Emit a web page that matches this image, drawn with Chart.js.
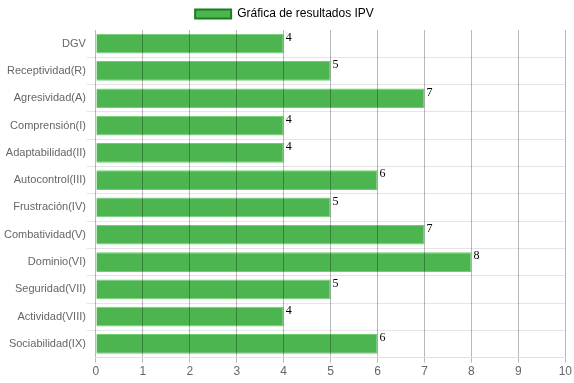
<!DOCTYPE html>
<html>
<head>
<meta charset="utf-8">
<style>
  html, body { margin: 0; padding: 0; background: #fff; }
  #wrap { width: 574px; height: 383px; }
</style>
</head>
<body>
<div id="wrap">
  <canvas id="myChart"></canvas>
</div>

<script src="https://cdn.jsdelivr.net/npm/chart.js"></script>

<script>
  const categorias = ['DGV', 'Receptividad(R)', 'Agresividad(A)', 'Comprensión(I)', 'Adaptabilidad(II)',
    'Autocontrol(III)', 'Frustración(IV)', 'Combatividad(V)', 'Dominio(VI)', 'Seguridad(VII)',
    'Actividad(VIII)', 'Sociabilidad(IX)'];
  const valores = [4, 5, 7, 4, 4, 6, 5, 7, 8, 5, 4, 6];
  const ticksX = [0, 1, 2, 3, 4, 5, 6, 7, 8, 9, 10];

  Chart.defaults.font.family = '"Helvetica Neue", Helvetica, Arial, "Liberation Sans", sans-serif';
  Chart.defaults.font.size = 12;
  Chart.defaults.color = '#666';

  // numbers at the end of every bar
  const etiquetas = {
    id: 'etiquetas',
    afterDatasetsDraw(chart) {
      const c = chart.ctx;
      const meta = chart.getDatasetMeta(0);
      c.save();
      c.font = '12px "Times New Roman", "Liberation Serif", serif';
      c.fillStyle = '#000';
      c.textAlign = 'left';
      c.textBaseline = 'top';
      meta.data.forEach((bar, i) => {
        const top = bar.y - bar.height / 2;
        c.fillText(valores[i], bar.x + 2, top - 2);
      });
      c.restore();
    }
  };

  const ctx = document.getElementById('myChart');
  new Chart(ctx, {
    type: 'bar',
    data: {
      labels: categorias,
      datasets: [{
        label: 'Gráfica de resultados IPV',
        data: valores,
        backgroundColor: '#4cb54f',
        borderColor: '#6fcf6f',
        borderWidth: 1,
        borderSkipped: 'left'
      }]
    },
    options: {
      indexAxis: 'y',
      responsive: true,
      maintainAspectRatio: false,
      animation: false,
      layout: { padding: { left: 3, right: 8, top: 0, bottom: 2 } },
      plugins: {
        tooltip: { enabled: false },
        legend: {
          labels: {
            boxWidth: 36,
            boxHeight: 9,
            padding: 8,
            generateLabels(chart) {
              return [{
                text: chart.data.datasets[0].label,
                fillStyle: '#4cb54f',
                strokeStyle: '#1e7d1e',
                lineWidth: 2,
                datasetIndex: 0
              }];
            }
          }
        }
      },
      scales: {
        x: {
          min: 0,
          max: 10,
          afterBuildTicks(axis) { axis.ticks = ticksX.map(v => ({ value: v })); },
          grid: { color: 'rgba(0,0,0,0.28)', z: 1, drawTicks: true, tickLength: 5 },
          border: { color: 'rgba(0,0,0,0.12)', z: 2 },
          ticks: { color: '#666', padding: 2 }
        },
        y: {
          grid: {
            color: c => (c.index >= 1 && c.index <= 11 ? 'rgba(0,0,0,0.1)' : 'rgba(0,0,0,0)'),
            offset: true,
            tickLength: 9
          },
          border: { display: false },
          ticks: { color: '#666', padding: 1, font: { size: 11 } }
        }
      }
    },
    plugins: [etiquetas]
  });
</script>
</body>
</html>
